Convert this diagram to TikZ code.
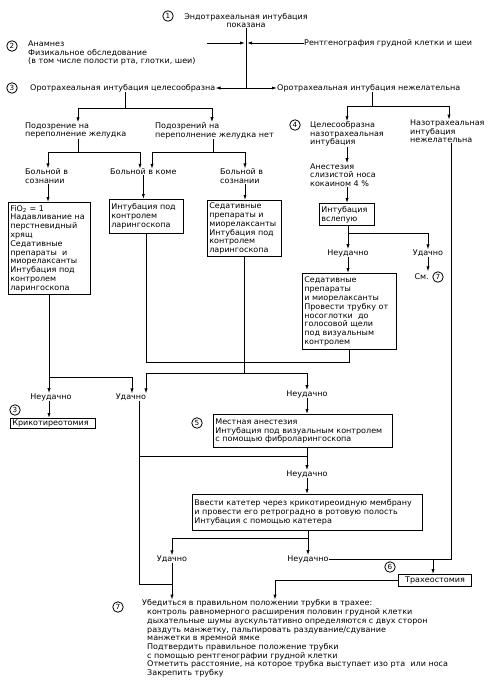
\documentclass[tikz,border=0pt]{standalone}
\usepackage{fontspec}
\setmainfont{DejaVu Sans}[FakeStretch=1.03]
\usetikzlibrary{arrows.meta}
\begin{document}
\begin{tikzpicture}[x=1pt,y=-1pt,
  txt/.style={font=\fontsize{7.8}{8.7}\selectfont, inner sep=0pt, align=left},
  ctxt/.style={txt, align=center},
  box/.style={draw, line width=1.1pt, inner xsep=1.8pt, inner ysep=1pt, anchor=north west, align=left,
              font=\fontsize{7.8}{8.8}\selectfont},
  num/.style={circle, draw, line width=0.8pt, inner sep=0pt, minimum size=10.5pt, font=\fontsize{7}{7}\selectfont},
  ln/.style={line width=0.8pt},
  arr/.style={ln, -{Latex[length=5pt,width=3.2pt]}}]
\useasboundingbox (0,0) rectangle (491,680);
% ---------------- top
\node[num] (n1) at (168,16) {1};
\node[ctxt] (t1) at (246,20.5) {Эндотрахеальная интубация\\показана};
\node[num] (n2) at (12,46) {2};
\node[txt, anchor=west] (t2) at (28,53) {Анамнез\\Физикальное обследование\\(в том числе полости рта, глотки, шеи)};
\node[txt, anchor=west] (xr) at (304,43) {Рентгенография грудной клетки и шеи};
\node[num] (n3) at (12,88) {3};
\node[txt, anchor=west] (t3) at (30,88) {Оротрахеальная интубация целесообразна};
\node[txt, anchor=west] (t3r) at (277,88) {Оротрахеальная интубация нежелательна};
% ---------------- left branch texts
\node[txt, anchor=west] (t4a) at (25,130.5) {Подозрение на\\переполнение желудка};
\node[txt, anchor=west] (t4b) at (155,130.5) {Подозрений на\\переполнение желудка нет};
\node[txt, anchor=west] (t5a) at (25,176) {Больной в\\сознании};
\node[txt, anchor=west] (t5b) at (110,172) {Больной в коме};
\node[txt, anchor=west] (t5c) at (220,176) {Больной в\\сознании};
% boxes
\node[box, minimum width=82pt, minimum height=92pt, text width=78.4pt] (bfio) at (8,202)
  {FiO\textsubscript{2} = 1\\Надавливание на\\перстневидный\\хрящ\\Седативные\\препараты\ \ и\\миорелаксанты\\Интубация под\\контролем\\ларингоскопа};
\node[box, minimum width=74pt, minimum height=34pt, text width=70.4pt] (bcoma) at (109,199)
  {Интубация под\\контролем\\ларингоскопа};
\node[box, minimum width=74pt, minimum height=56pt, text width=70.4pt] (bsed) at (207,200)
  {Седативные\\препараты и\\миорелаксанты\\Интубация под\\контролем\\ларингоскопа};
% ---------------- right branch
\node[num] (n4) at (295,125) {4};
\node[txt, anchor=west] (t6a) at (310,134) {Целесообразна\\назотрахеальная\\интубация};
\node[txt, anchor=west] (t6b) at (410,131.5) {Назотрахеальная\\интубация\\нежелательна};
\node[txt, anchor=west] (t7) at (310,175) {Анестезия\\слизистой носа\\кокаином 4 \%};
\node[box, minimum width=55pt, minimum height=22pt, text width=51.4pt] (bblind) at (319,203)
  {Интубация\\вслепую};
\node[ctxt] (t8a) at (348,253) {Неудачно};
\node[ctxt] (t8b) at (428,253) {Удачно};
\node[txt, anchor=east] (t9) at (429,277) {См.};
\node[num] (n7a) at (438,277) {7};
\node[box, minimum width=94pt, minimum height=76pt, text width=90.4pt] (bnasal) at (302,273)
  {Седативные\\препараты\\и миорелаксанты\\Провести трубку от\\носоглотки\ \ до\\голосовой щели\\под визуальным\\контролем};
% ---------------- middle
\node[ctxt] (t10a) at (51,397) {Неудачно};
\node[ctxt] (t10b) at (131,397) {Удачно};
\node[num] (n3b) at (15,410) {3};
\node[box, minimum width=85pt, minimum height=10pt, text width=81.4pt, inner ysep=0.5pt] (bkrik) at (10,418)
  {Крикотиреотомия};
\node[ctxt] (t11) at (307,394) {Неудачно};
\node[num] (n5) at (197,423) {5};
\node[box, minimum width=179pt, minimum height=33pt, text width=175.4pt] (bfibro) at (213,414)
  {Местная анестезия\\Интубация под визуальным контролем\\с помощью фиброларингоскопа};
\node[ctxt] (t12) at (307,474) {Неудачно};
\node[box, minimum width=230pt, minimum height=36pt, text width=226.4pt] (bcath) at (192,494)
  {Ввести катетер через крикотиреоидную мембрану\\и провести его ретроградно в ротовую полость\\Интубация с помощью катетера};
\node[ctxt] (t13b) at (172,559) {Удачно};
\node[ctxt] (t13a) at (308,559) {Неудачно};
\node[num] (n6) at (390,567) {6};
\node[box, minimum width=73pt, minimum height=12pt, text width=69.4pt, align=center] (btrach) at (398,574)
  {Трахеостомия};
% ---------------- final
\node[num] (n7) at (118,607) {7};
\node[txt, anchor=west] (t14) at (142,638.5)
  {Убедиться в правильном положении трубки в трахее:\\
   \hspace*{5pt}контроль равномерного расширения половин грудной клетки\\
   \hspace*{5pt}дыхательные шумы аускультативно определяются с двух сторон\\
   \hspace*{5pt}раздуть манжетку, пальпировать раздувание/сдувание\\
   \hspace*{5pt}манжетки в яремной ямке\\
   \hspace*{5pt}Подтвердить правильное положение трубки\\
   \hspace*{5pt}с помощью рентгенографии грудной клетки\\
   \hspace*{5pt}Отметить расстояние, на которое трубка выступает изо рта\ \ или носа\\
   \hspace*{5pt}Закрепить трубку};
% ---------------- coordinates
\coordinate (j1) at (246,88);
\coordinate (a2s) at (207,43);
\coordinate (a2e) at (245,43);
\coordinate (a2f) at (247,43);
\coordinate (j3) at (125,108);
\coordinate (k1) at (78,108);
\coordinate (k2) at (212,108);
\coordinate (k3) at (78,152);
\coordinate (k4) at (48,152);
\coordinate (k5) at (140,152);
\coordinate (k6) at (213,152);
\coordinate (k7) at (152,152);
\coordinate (k8) at (245,152);
\coordinate (k9) at (372,106);
\coordinate (k10) at (347,106);
\coordinate (k11) at (449,106);
\coordinate (k12) at (348,233);
\coordinate (k13) at (428,233);
\coordinate (m1) at (0,362);
\coordinate (m2) at (0,373);
\coordinate (k16) at (146,373);
\coordinate (k17) at (307,373);
\coordinate (m3) at (0,377);
\coordinate (k18) at (49,377);
\coordinate (k19) at (132,377);
\coordinate (k20) at (139,584);
\coordinate (k21) at (172,584);
\coordinate (k22) at (139,456);
\coordinate (k23) at (307,456);
\coordinate (k24) at (172,538);
\coordinate (k25) at (308,538);
\coordinate (k26) at (451,559);
\coordinate (k27) at (433,559);
\coordinate (k28) at (275,582);
% ---------------- connectors
\draw[ln] (t1.south) -- (j1);
\draw[arr] (j1) -- (t3.east);
\draw[arr] (j1) -- (t3r.west);
\draw[arr] (a2s) -- (a2e);
\draw[arr] (xr.west) -- (a2f);
\draw[ln] (t3.south -| j3) -- (j3);
\draw[ln] (k1) -- (k2);
\draw[arr] (k1) -- (k1 |- t4a.north);
\draw[arr] (k2) -- (k2 |- t4b.north);
\draw[ln] (k3 |- t4a.south) -- (k3);
\draw[ln] (k4) -- (k5);
\draw[arr] (k4) -- (k4 |- t5a.north);
\draw[arr] (k5) -- (k5 |- t5b.north);
\draw[ln] (k6 |- t4b.south) -- (k6);
\draw[ln] (k7) -- (k8);
\draw[arr] (k7) -- (k7 |- t5b.north);
\draw[arr] (k8) -- (k8 |- t5c.north);
\draw[arr] (k4 |- t5a.south) -- (k4 |- bfio.north);
\draw[arr] (t5b.south) -- (t5b.south |- bcoma.north);
\draw[arr] (k8 |- t5c.south) -- (k8 |- bsed.north);
\draw[ln] (t3r.south -| k9) -- (k9);
\draw[ln] (k10) -- (k11);
\draw[arr] (k10) -- (k10 |- t6a.north);
\draw[arr] (k11) -- (k11 |- t6b.north);
\draw[arr] (k10 |- t6a.south) -- (k10 |- t7.north);
\draw[arr] (k10 |- t7.south) -- (k10 |- bblind.north);
\draw[ln] (bblind.south -| k12) -- (k12) -- (k13);
\draw[arr] (k12) -- (k12 |- t8a.north);
\draw[arr] (k13) -- (k13 |- t8b.north);
\draw[arr] (t8b.south) -- (t8b.south |- n7a.north);
\draw[arr] (t8a.south) -- (t8a.south |- bnasal.north);
\draw[ln] (bnasal.south) -- (bnasal.south |- m1) -- (bcoma.south |- m1) -- (bcoma.south);
\draw[ln] (bsed.south) -- (bsed.south |- m2);
\draw[ln] (k16) -- (k17);
\draw[arr] (k16) -- (k16 |- t10b.north);
\draw[arr] (k17) -- (k17 |- t11.north);
\draw[ln] (bfio.south) -- (bfio.south |- m3);
\draw[ln] (k18) -- (k19);
\draw[arr] (k18) -- (k18 |- t10a.north);
\draw[arr] (k19) -- (k19 |- t10b.north);
\draw[arr] (k18 |- t10a.south) -- (k18 |- bkrik.north);
\draw[ln] (k20 |- t10b.south) -- (k20) -- (k21);
\draw[arr] (t11.south) -- (t11.south |- bfibro.north);
\draw[ln] (bfibro.south -| k23) -- (k23);
\draw[ln] (k22) -- (k23);
\draw[arr] (k23) -- (k23 |- t12.north);
\draw[arr] (t12.south) -- (t12.south |- bcath.north);
\draw[ln] (bcath.south -| k25) -- (k25);
\draw[ln] (k24) -- (k25);
\draw[arr] (k24) -- (k24 |- t13b.north);
\draw[arr] (k25) -- (k25 |- t13a.north);
\draw[ln] (t13a.east) -- (k26) -- (k26 |- t6b.south);
\draw[arr] (k27) -- (k27 |- btrach.north);
\draw[ln] (btrach.west) -- (btrach.west -| k28) -- (k28);
\draw[arr] (k28) -- (k28 |- t14.north);
\draw[arr] (t13b.south) -- (t13b.south |- t14.north);
\end{tikzpicture}
\end{document}
